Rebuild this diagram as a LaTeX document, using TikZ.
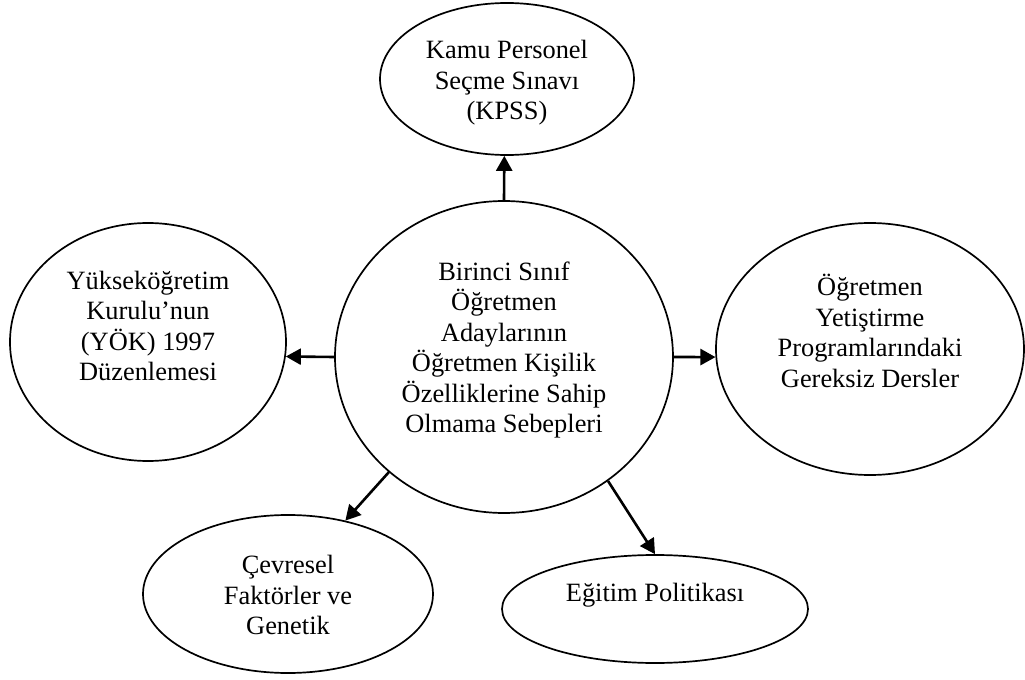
\documentclass[tikz,border=0pt]{standalone}
\usepackage{fontspec}
\setmainfont{Liberation Serif}
\usetikzlibrary{arrows.meta,shapes.geometric}

\begin{document}
\begin{tikzpicture}[x=0.5pt,y=-0.5pt,
  oval/.style={draw=black,ellipse,line width=0.85pt,inner sep=0pt},
  ovaltext/.style={align=center,inner sep=0pt,font=\fontsize{13.2}{15.2}\selectfont},
  arr/.style={-{Triangle[length=7.5pt,width=8pt]},line width=1.3pt}]
\useasboundingbox (0,0) rectangle (1025,680);
% ovals
\node[oval,minimum width=169pt,minimum height=156pt] (sebep) at (504,357) {};
\node[oval,minimum width=127pt,minimum height=76pt] (kpss) at (507,79) {};
\node[oval,minimum width=138pt,minimum height=119pt] (yok) at (148,342) {};
\node[oval,minimum width=154pt,minimum height=126pt] (dersler) at (870,349) {};
\node[oval,minimum width=145pt,minimum height=79pt] (cevre) at (288,594) {};
\node[oval,minimum width=153pt,minimum height=54pt] (politika) at (655,609) {};
% texts
\node[ovaltext] (sebep_t) at ([yshift=3.5pt]sebep.center) {Birinci Sınıf\\Öğretmen\\Adaylarının\\Öğretmen Kişilik\\Özelliklerine Sahip\\Olmama Sebepleri};
\node[ovaltext] (kpss_t) at ([yshift=-2pt]kpss.center) {Kamu Personel\\Seçme Sınavı\\(KPSS)};
\node[ovaltext] (yok_t) at ([yshift=8pt]yok.center) {Yükseköğretim\\Kurulu’nun\\(YÖK) 1997\\Düzenlemesi};
\node[ovaltext] (dersler_t) at ([yshift=9pt]dersler.center) {Öğretmen\\Yetiştirme\\Programlarındaki\\Gereksiz Dersler};
\node[ovaltext] (cevre_t) at ([yshift=-0.5pt]cevre.center) {Çevresel\\Faktörler ve\\Genetik};
\node[ovaltext] (politika_t) at ([yshift=7pt]politika.center) {Eğitim Politikası};
% arrows
\draw[arr] (sebep.north) -- (kpss.268);
\draw[arr] (sebep.west) -- (yok.-6);
\draw[arr] (sebep.east) -- (dersler.183);
\draw[arr] (sebep.225) -- (cevre.52);
\draw[arr] (sebep.-50) -- (politika.north);
\end{tikzpicture}
\end{document}
